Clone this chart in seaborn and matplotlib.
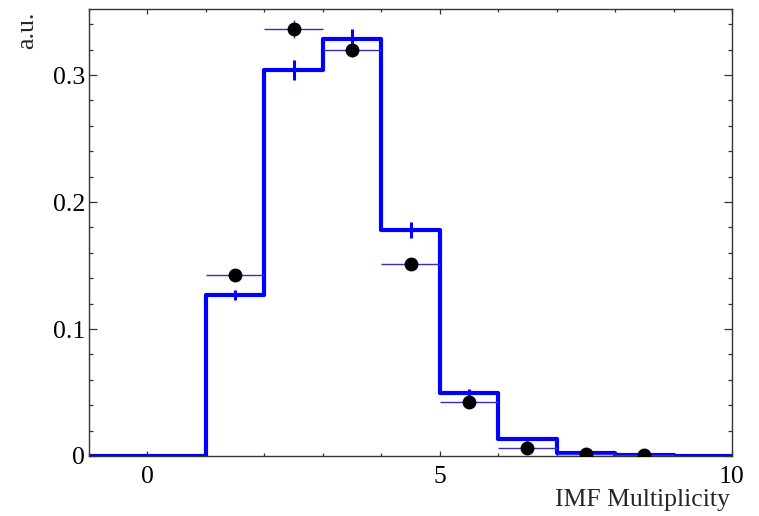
import numpy as np
import pandas as pd
import matplotlib
matplotlib.use("Agg")
import matplotlib.pyplot as plt
import seaborn as sns
from matplotlib.ticker import MultipleLocator

# ---- data ----
bin_edges = [-1, 0, 1, 2, 3, 4, 5, 6, 7, 8, 9, 10]
bin_centers = [-0.5, 0.5, 1.5, 2.5, 3.5, 4.5, 5.5, 6.5, 7.5, 8.5, 9.5]
model_values = [0.0, 0.0, 0.127, 0.304, 0.328, 0.178, 0.050, 0.0135, 0.002, 0.0005, 0.0002]
model_errors = [0.0, 0.0, 0.004, 0.008, 0.008, 0.0065, 0.003, 0.0015, 0.0005, 0.0002, 0.0001]

data_x = [1.5, 2.5, 3.5, 4.5, 5.5, 6.5, 7.5, 8.5]
data_y = [0.1425, 0.336, 0.320, 0.151, 0.0428, 0.006, 0.0013, 0.0005]
data_yerr = [0.003, 0.007, 0.006, 0.003, 0.002, 0.001, 0.0005, 0.0003]
data_xerr = [0.5] * len(data_x)

xticks = [0, 5, 10]
yticks = [0, 0.1, 0.2, 0.3]
xlabel = "IMF Multiplicity"
ylabel = "a.u."

sns.set_style("ticks")
plt.rcParams['font.family'] = ['Liberation Serif', 'DejaVu Serif']
plt.rcParams['mathtext.fontset'] = 'stix'

fig = plt.figure(figsize=(7.59, 5.16), dpi=100)
ax = fig.add_axes([89/759, 1 - 456/516, (732 - 89)/759, (456 - 9)/516])

blue = '#0000ff'
model_df = pd.DataFrame({"x": bin_centers, "w": model_values})
sns.histplot(data=model_df, x="x", weights="w", bins=bin_edges, element="step",
             fill=False, color=blue, linewidth=3.0, ax=ax)
ax.errorbar(bin_centers, model_values, yerr=model_errors, fmt='none',
            ecolor=blue, elinewidth=2.2, capsize=0, zorder=3)

errc = '#3030c8'
ax.errorbar(data_x, data_y, xerr=data_xerr, yerr=data_yerr, fmt='none',
            ecolor=errc, elinewidth=1.0, capsize=0, zorder=4)
data_df = pd.DataFrame({"x": data_x, "y": data_y})
sns.scatterplot(data=data_df, x="x", y="y", color='black', s=100,
                edgecolor='black', linewidth=0, zorder=5, ax=ax)

ax.set_xlim(-1, 10)
ax.set_ylim(0, 0.352)
ax.set_xticks(xticks)
ax.set_yticks(yticks)
ax.set_yticklabels(['0', '0.1', '0.2', '0.3'])
ax.xaxis.set_minor_locator(MultipleLocator(1))
ax.yaxis.set_minor_locator(MultipleLocator(0.02))
ax.set_xlabel("")
ax.set_ylabel("")

spc = '#333333'
for s in ax.spines.values():
    s.set_visible(True)
    s.set_color(spc)
    s.set_linewidth(1.0)
ax.tick_params(axis='both', which='both', direction='in', top=True, right=True,
               colors=spc, labelcolor='black', labelsize=18.5, width=0.9)
ax.tick_params(axis='x', which='major', length=3.5, pad=7)
ax.tick_params(axis='x', which='minor', length=2.5)
ax.tick_params(axis='y', which='major', length=6, pad=3)
ax.tick_params(axis='y', which='minor', length=3)

fig.text(730/759, 1 - 489/516, xlabel, ha='right', va='top', fontsize=18.5)
fig.text(27/759, 1 - 12/516, ylabel, ha='center', va='top', rotation=90, fontsize=18.5)

fig.savefig("out.png", dpi=100)
